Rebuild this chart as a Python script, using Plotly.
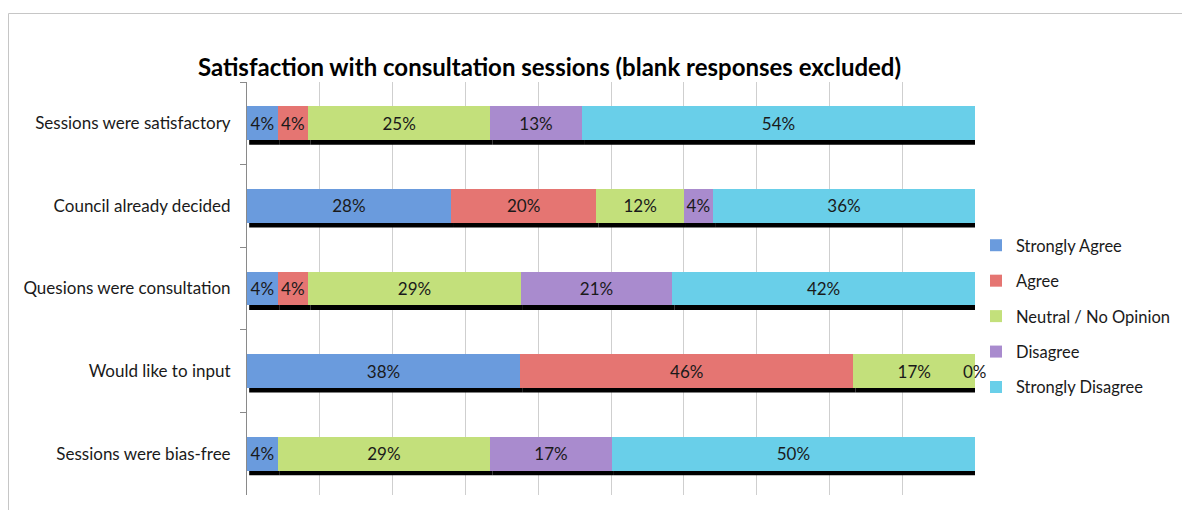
import plotly.graph_objects as go

categories = ["Sessions were satisfactory", "Council already decided",
              "Quesions were consultation", "Would like to input",
              "Sessions were bias-free"]
series_names = ["Strongly Agree", "Agree", "Neutral / No Opinion",
                "Disagree", "Strongly Disagree"]
strongly_agree = [4.2, 28, 4.2, 37.5, 4.2]
agree = [4.2, 20, 4.2, 45.8, None]
neutral = [25.0, 12, 29.2, 16.7, 29.2]
disagree = [12.6, 4, 20.8, 0, 16.7]
strongly_disagree = [54.0, 36, 41.6, None, 49.9]
series_values = [strongly_agree, agree, neutral, disagree, strongly_disagree]
colors = ["#6A9BDD", "#E57572", "#C3E07B", "#A98BCE", "#69CFE9"]

W, H = 1182, 510
# plot area in window pixels: x 247..975, y 82..495
ML, MR, MT, MB = 247, W - 975, 82, H - 495
FONT = "Lato"
FS = 17

fig = go.Figure()
for name, vals, col in zip(series_names, series_values, colors):
    fig.add_trace(go.Bar(
        y=categories, x=vals, name=name, orientation="h",
        marker=dict(color=col, line=dict(width=0)),
        text=["" if (v is None or v == 0) else f"{v:.0f}%" for v in vals],
        textposition="inside", insidetextanchor="middle", textangle=0,
        constraintext="none",
        textfont=dict(family=FONT, size=FS, color="#1a1a1a"),
        legendgroup=name, hoverinfo="skip", cliponaxis=False,
    ))

# shadows (drawn behind bars) and zero labels, computed from the data
shapes = []
annotations = []
bw = 0.41
dx, dy = 0.3, 0.055
for i, cat in enumerate(categories):
    start = 0.0
    for vals in series_values:
        v = vals[i]
        if v is None:
            continue
        if v == 0:
            annotations.append(dict(x=start, y=cat, xref="x", yref="y",
                                    text=f"{v:.0f}%", showarrow=False,
                                    font=dict(family=FONT, size=FS, color="#1a1a1a")))
            continue
        shapes.append(dict(type="rect", xref="x", yref="y",
                           x0=start + dx, x1=start + v + dx,
                           y0=i - bw / 2 + dy, y1=i + bw / 2 + dy,
                           fillcolor="black", line=dict(width=0), layer="between"))
        start += v

# outer chart border (top and left edges), given in window pixels
pw = W - ML - MR
ph = H - MT - MB
def px_x(p):
    return (p - ML) / pw
def px_y(p):
    return (H - MB - p) / ph
shapes.append(dict(type="line", xref="paper", yref="paper",
                   x0=px_x(8.5), x1=px_x(1182), y0=px_y(13.5), y1=px_y(13.5),
                   line=dict(color="#C6C6C6", width=1), layer="above"))
shapes.append(dict(type="line", xref="paper", yref="paper",
                   x0=px_x(8.5), x1=px_x(8.5), y0=px_y(13.5), y1=px_y(510),
                   line=dict(color="#C6C6C6", width=1), layer="above"))

fig.update_layout(
    width=W, height=H,
    barmode="stack", bargap=1 - bw,
    margin=dict(l=ML, r=MR, t=MT, b=MB, pad=0, autoexpand=False),
    paper_bgcolor="white", plot_bgcolor="white",
    font=dict(family=FONT, size=FS, color="#1a1a1a"),
    title=dict(text="<b>Satisfaction with consultation sessions (blank responses excluded)</b>",
               x=549.5 / W, xref="container", xanchor="center",
               y=1 - 68 / H, yref="container", yanchor="middle",
               font=dict(family=FONT, size=24, color="#000000")),
    legend=dict(x=976 / W, xref="container", xanchor="left",
                y=1 - 228 / H, yref="container", yanchor="top",
                traceorder="grouped", tracegroupgap=11,
                font=dict(family=FONT, size=16.5, color="#1a1a1a"),
                bgcolor="rgba(0,0,0,0)"),
    xaxis=dict(range=[0, 100], dtick=10, showgrid=True, gridcolor="#CFCFCF",
               gridwidth=1, showticklabels=False, zeroline=False,
               showline=False, fixedrange=True, automargin=False),
    yaxis=dict(categoryorder="array", categoryarray=categories,
               autorange="reversed", showline=True, linecolor="#8A8A8A",
               linewidth=1, ticks="outside", tickson="boundaries", ticklen=6,
               tickcolor="#8A8A8A", ticklabelstandoff=12, showgrid=False,
               automargin=False,
               tickfont=dict(family=FONT, size=FS, color="#1a1a1a")),
    shapes=shapes, annotations=annotations,
)

fig.write_html(
    "out.html",
    config={"displayModeBar": False, "staticPlot": True},
    post_script="document.body.style.margin='0';document.body.style.overflow='hidden';",
)
